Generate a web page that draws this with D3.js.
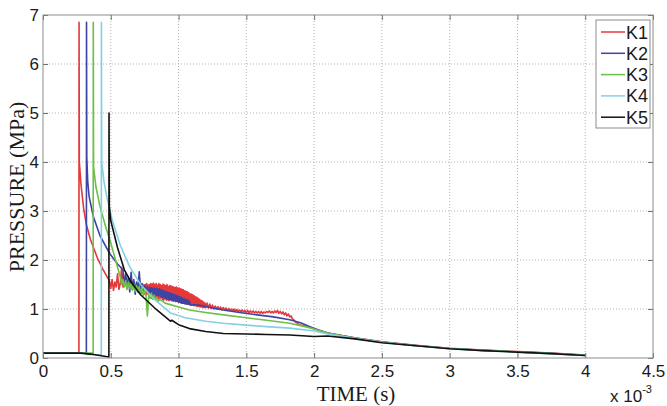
<!DOCTYPE html>
<html>
<head>
<meta charset="utf-8">
<script src="https://cdn.jsdelivr.net/npm/d3@7"></script>
<style>
  html, body { margin: 0; padding: 0; background: #ffffff; }
  svg { display: block; }
</style>
</head>
<body>
<svg id="chart" width="667" height="406"></svg>
<script>
// ---- data (time in units of 1e-3 s, pressure in MPa) ----
const seriesNames  = ["K1", "K2", "K3", "K4", "K5"];
const seriesColors = ["#e4383a", "#3d44a4", "#6cc048", "#84d0e2", "#111111"];
const xTicks = [0, 0.5, 1, 1.5, 2, 2.5, 3, 3.5, 4, 4.5];
const yTicks = [0, 1, 2, 3, 4, 5, 6, 7];

// Each gauge: quiet baseline, shock arrival spike, decay, noisy bursts
// (burst = [start time, sample step, samples]) and the late tail.
const k1Rise = [[0, 0.1], [0.265, 0.1], [0.266, 6.85], [0.268, 4.0], [0.28, 3.55], [0.30, 3.05],
  [0.32, 2.72], [0.35, 2.42], [0.40, 2.05], [0.44, 1.82], [0.48, 1.62]];
const k1BurstA = [0.49, 0.01, [
  1.58, 1.42, 1.60, 1.38, 1.55, 1.45, 1.72, 1.40, 1.52, 1.85, 1.45,
  1.48, 1.55, 1.42, 1.58, 1.45, 1.52, 1.40, 1.55, 1.47, 1.50]];
const k1BurstB = [0.70, 0.005, [
  1.38, 1.48, 1.34, 1.50, 1.36, 1.47, 1.32, 1.51, 1.33, 1.49,
  1.30, 1.50, 1.28, 1.52, 1.31, 1.49, 1.27, 1.50, 1.25, 1.52,
  1.22, 1.51, 1.24, 1.53, 1.20, 1.50, 1.23, 1.52, 1.21, 1.49,
  1.22, 1.52, 1.19, 1.50, 1.23, 1.48, 1.20, 1.51, 1.18, 1.49,
  1.21, 1.48, 1.18, 1.50, 1.19, 1.46, 1.17, 1.48, 1.19, 1.47,
  1.17, 1.46, 1.16, 1.45, 1.18, 1.44, 1.15, 1.45, 1.16, 1.43,
  1.14, 1.43, 1.15, 1.41, 1.13, 1.40, 1.12, 1.39, 1.13, 1.37,
  1.11, 1.36, 1.10, 1.35, 1.11, 1.33, 1.09, 1.31, 1.08, 1.30,
  1.08, 1.29, 1.07, 1.27, 1.07, 1.25, 1.06, 1.24, 1.05, 1.22,
  1.05, 1.20, 1.04, 1.18, 1.04, 1.16, 1.03, 1.14, 1.03, 1.12]];
const k1BurstC = [1.20, 0.01, [
  1.03, 1.12, 1.02, 1.10, 1.01, 1.08, 1.00, 1.06, 1.00, 1.05,
  0.99, 1.04, 0.98, 1.03, 0.98, 1.02, 0.97, 1.01, 0.97, 1.00,
  0.96, 1.00, 0.95, 0.99, 0.95, 0.98, 0.94, 0.98, 0.94, 0.97,
  0.93, 0.97, 0.92, 0.96, 0.93, 0.96, 0.92, 0.95, 0.92, 0.95,
  0.91, 0.95, 0.91, 0.94, 0.92, 0.95, 0.93, 0.96, 0.92, 0.95,
  0.92, 0.96, 0.93, 0.97, 0.91, 0.95, 0.90, 0.94, 0.88, 0.92,
  0.86, 0.90, 0.84, 0.86, 0.80, 0.78, 0.74, 0.72, 0.70, 0.68]];
const k1Tail = [[1.95, 0.64], [2.0, 0.60], [2.05, 0.55], [2.1, 0.51], [2.3, 0.41], [2.5, 0.33],
  [2.75, 0.26], [3.0, 0.20], [3.25, 0.16], [3.5, 0.13], [3.75, 0.10], [4.0, 0.06]];

const k2Rise = [[0, 0.1], [0.32, 0.1], [0.321, 6.85], [0.323, 4.1], [0.33, 3.6], [0.34, 3.3],
  [0.37, 2.9], [0.42, 2.5], [0.49, 2.14], [0.55, 1.92]];
const k2BurstA = [0.59, 0.01, [
  1.80, 1.50, 1.72, 1.45, 1.65, 1.35, 1.75, 1.42, 1.60, 1.30,
  1.55, 1.38, 1.76, 1.40, 1.52, 1.36, 1.48, 1.42, 1.45, 1.34]];
const k2BurstB = [0.79, 0.005, [
  1.44, 1.30, 1.43, 1.32, 1.42, 1.29, 1.43, 1.30, 1.41, 1.28,
  1.42, 1.27, 1.40, 1.28, 1.41, 1.26, 1.39, 1.25, 1.38, 1.24,
  1.37, 1.23, 1.36, 1.22, 1.35, 1.21, 1.34, 1.20, 1.33, 1.19,
  1.32, 1.19, 1.31, 1.18, 1.30, 1.17, 1.29, 1.16, 1.28, 1.16,
  1.27, 1.15, 1.26, 1.14, 1.25, 1.13, 1.24, 1.12, 1.22, 1.12,
  1.21, 1.11, 1.20, 1.11, 1.19, 1.10, 1.18, 1.10, 1.16, 1.09]];
const k2Tail = [[1.15, 1.08], [1.25, 1.02], [1.33, 0.98], [1.45, 0.93], [1.58, 0.88], [1.7, 0.84],
  [1.82, 0.78], [1.9, 0.72], [2.0, 0.60], [2.1, 0.51], [2.3, 0.405], [2.5, 0.325],
  [2.75, 0.255], [3.0, 0.195], [3.25, 0.155], [3.5, 0.125], [3.75, 0.095], [4.0, 0.055]];

const k3Rise = [[0, 0.1], [0.37, 0.1], [0.371, 6.85], [0.373, 3.9], [0.39, 3.5], [0.42, 3.1],
  [0.46, 2.7], [0.50, 2.35], [0.54, 1.95]];
const k3Burst = [0.57, 0.01, [
  1.66, 1.50, 1.60, 1.45, 1.58, 1.40, 1.55, 1.42, 1.52, 1.38,
  1.50, 1.36, 1.48, 1.34, 1.46, 1.30, 1.44, 1.28, 1.40, 1.26,
  0.86, 1.30, 1.22, 1.32, 1.20, 1.28, 1.18, 1.24, 1.16, 1.20]];
const k3Tail = [[0.9, 1.12], [1.0, 1.04], [1.08, 0.98], [1.2, 0.93], [1.33, 0.88], [1.5, 0.82],
  [1.65, 0.77], [1.82, 0.71], [1.95, 0.63], [2.05, 0.55], [2.1, 0.51], [2.3, 0.40],
  [2.5, 0.32], [2.75, 0.25], [3.0, 0.195], [3.25, 0.155], [3.5, 0.125], [3.75, 0.09], [4.0, 0.055]];

const k4Rise = [[0, 0.1], [0.30, 0.1], [0.33, 0.07], [0.43, 0.06], [0.431, 6.85], [0.433, 4.0],
  [0.45, 3.6], [0.47, 3.3], [0.51, 2.82], [0.57, 2.3], [0.64, 1.86], [0.72, 1.5], [0.82, 1.2]];
const k4Tail = [[0.94, 0.92], [1.05, 0.82], [1.2, 0.75], [1.33, 0.71], [1.5, 0.67], [1.65, 0.64],
  [1.82, 0.61], [2.0, 0.55], [2.1, 0.49], [2.3, 0.40], [2.5, 0.32], [2.75, 0.25], [3.0, 0.19],
  [3.25, 0.15], [3.5, 0.12], [3.75, 0.09], [4.0, 0.05]];

const k5Rise = [[0, 0.1], [0.28, 0.1], [0.35, 0.08], [0.42, 0.05], [0.486, 0.02], [0.487, 5.0],
  [0.489, 3.1], [0.50, 2.8], [0.55, 2.25], [0.60, 1.8], [0.65, 1.55], [0.72, 1.29], [0.84, 0.98]];
const k5Tail = [[0.92, 0.80], [0.94, 0.75], [0.95, 0.77], [1.0, 0.68], [1.08, 0.60], [1.2, 0.54],
  [1.33, 0.50], [1.5, 0.49], [1.65, 0.48], [1.82, 0.47], [2.0, 0.44], [2.1, 0.45], [2.3, 0.39],
  [2.5, 0.31], [2.75, 0.25], [3.0, 0.19], [3.25, 0.15], [3.5, 0.12], [3.75, 0.09], [4.0, 0.05]];

// ---- assemble series ----
function burstPoints(b) {
  const [t0, dt, vals] = b;
  return vals.map((v, i) => [t0 + i * dt, v]);
}
const series = [
  k1Rise.concat(burstPoints(k1BurstA), burstPoints(k1BurstB), burstPoints(k1BurstC), k1Tail),
  k2Rise.concat(burstPoints(k2BurstA), burstPoints(k2BurstB), k2Tail),
  k3Rise.concat(burstPoints(k3Burst), k3Tail),
  k4Rise.concat(k4Tail),
  k5Rise.concat(k5Tail)
];

// ---- layout ----
const svg = d3.select("#chart");
const plot = { left: 43, right: 653, top: 15, bottom: 358 };
const x = d3.scaleLinear().domain([0, 4.5]).range([plot.left, plot.right]);
const y = d3.scaleLinear().domain([0, 7]).range([plot.bottom, plot.top]);

const gridColor = "#b8b2ac";
const frameColor = "#8c8c8c";
const sans = "'Liberation Sans', Arial, sans-serif";
const serif = "'Liberation Serif', 'Times New Roman', serif";

// dotted grid
const grid = svg.append("g");
grid.selectAll("line.gx").data(xTicks.slice(1, -1)).join("line")
  .attr("x1", d => x(d)).attr("x2", d => x(d))
  .attr("y1", plot.top).attr("y2", plot.bottom)
  .attr("stroke", gridColor).attr("stroke-width", 1).attr("stroke-dasharray", "1,2");
grid.selectAll("line.gy").data(yTicks.slice(1, -1)).join("line")
  .attr("x1", plot.left).attr("x2", plot.right)
  .attr("y1", d => y(d)).attr("y2", d => y(d))
  .attr("stroke", gridColor).attr("stroke-width", 1).attr("stroke-dasharray", "1,2");

// data lines
const line = d3.line().x(d => x(d[0])).y(d => y(d[1]));
svg.append("g").selectAll("path").data(series).join("path")
  .attr("d", line)
  .attr("fill", "none")
  .attr("stroke", (d, i) => seriesColors[i])
  .attr("stroke-width", 1.6)
  .attr("stroke-linejoin", "round");

// axes with inward ticks on all four sides
const fmt = d => String(d);
const axB = svg.append("g").attr("transform", `translate(0,${plot.bottom})`)
  .call(d3.axisBottom(x).tickValues(xTicks).tickFormat(fmt).tickSizeInner(-5).tickSizeOuter(0).tickPadding(7));
const axT = svg.append("g").attr("transform", `translate(0,${plot.top})`)
  .call(d3.axisTop(x).tickValues(xTicks).tickFormat("").tickSizeInner(-5).tickSizeOuter(0));
const axL = svg.append("g").attr("transform", `translate(${plot.left},0)`)
  .call(d3.axisLeft(y).tickValues(yTicks).tickFormat(fmt).tickSizeInner(-5).tickSizeOuter(0).tickPadding(4));
const axR = svg.append("g").attr("transform", `translate(${plot.right},0)`)
  .call(d3.axisRight(y).tickValues(yTicks).tickFormat("").tickSizeInner(-5).tickSizeOuter(0));
[axB, axT, axL, axR].forEach(g => {
  g.select(".domain").remove();
  g.selectAll(".tick line").attr("stroke", "#6f6f6f");
  g.selectAll("text").attr("fill", "#1a1a1a")
    .style("font-family", sans).style("font-size", "17px");
});

// frame
svg.append("rect")
  .attr("x", plot.left).attr("y", plot.top)
  .attr("width", plot.right - plot.left).attr("height", plot.bottom - plot.top)
  .attr("fill", "none").attr("stroke", frameColor).attr("stroke-width", 1);

// exponent note
const expo = svg.append("text").attr("x", 610).attr("y", 402)
  .attr("fill", "#1a1a1a")
  .style("font-family", sans).style("font-size", "17px");
expo.append("tspan").text("x 10");
expo.append("tspan").attr("dy", -9).style("font-size", "11px").text("-3");

// axis titles
svg.append("text")
  .attr("x", (plot.left + plot.right) / 2 + 8).attr("y", 401)
  .attr("text-anchor", "middle").attr("fill", "#1a1a1a")
  .style("font-family", serif).style("font-size", "21px")
  .text("TIME (s)");
svg.append("text")
  .attr("transform", "translate(24,187) rotate(-90)")
  .attr("text-anchor", "middle").attr("fill", "#1a1a1a")
  .style("font-family", serif).style("font-size", "22px")
  .text("PRESSURE (MPa)");

// legend
const lg = svg.append("g");
lg.append("rect").attr("x", 596).attr("y", 20).attr("width", 54).attr("height", 108)
  .attr("fill", "#ffffff").attr("stroke", frameColor).attr("stroke-width", 1);
const item = lg.selectAll("g.item").data(seriesNames).join("g")
  .attr("transform", (d, i) => `translate(0,${32 + i * 21.3})`);
item.append("line").attr("x1", 601).attr("x2", 625).attr("y1", 0).attr("y2", 0)
  .attr("stroke", (d, i) => seriesColors[i]).attr("stroke-width", 1.5);
item.append("text").attr("x", 626).attr("y", 6.5).text(d => d)
  .attr("fill", "#1a1a1a")
  .style("font-family", sans).style("font-size", "18px");
</script>
</body>
</html>
